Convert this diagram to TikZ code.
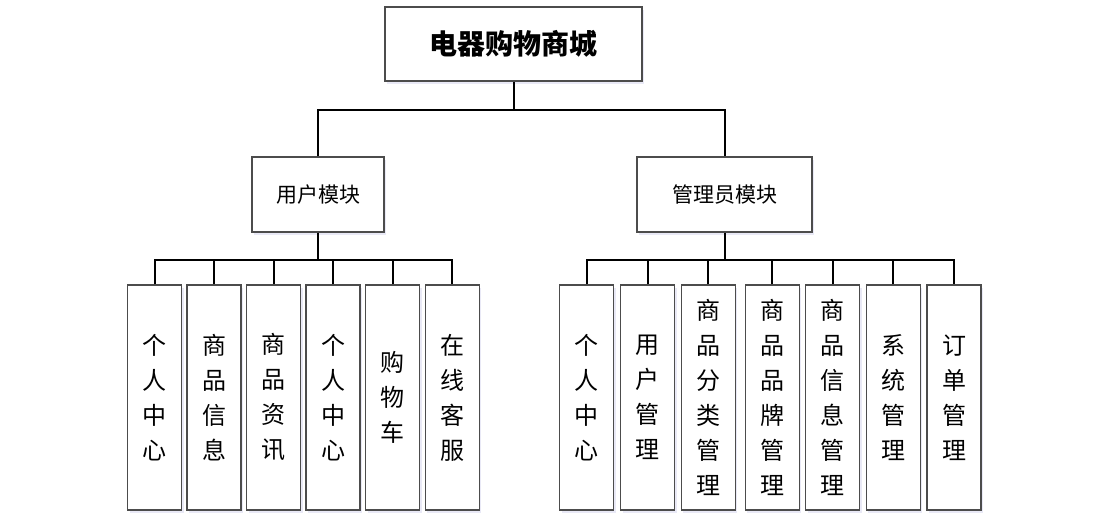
\documentclass[tikz,border=0pt]{standalone}
\usepackage{fontspec}
\newfontfamily\cjk{Noto Sans CJK SC}
\usetikzlibrary{shadows}

\begin{document}
\begin{tikzpicture}[
  x=1pt,y=-1pt,
  box/.style={draw=black!70,line width=1.1pt,fill=white,inner sep=0pt,
    drop shadow={shadow xshift=2pt,shadow yshift=-3pt,fill=blue!40!gray,opacity=.12}},
  titlebox/.style={box,minimum width=257pt,minimum height=74pt,
    font=\cjk\bfseries\fontsize{28}{32}\selectfont},
  modbox/.style={box,minimum height=75pt,font=\cjk\fontsize{21}{25}\selectfont},
  leafbox/.style={box,minimum width=54pt,minimum height=225pt,align=center,
    font=\cjk\fontsize{24}{35}\selectfont},
  wire/.style={line width=2pt,black}
]
  \useasboundingbox (0,0) rectangle (1108,528);

  \node[titlebox] (mall) at (513.5,44) {电器购物商城};
  \node[modbox,minimum width=132pt] (user) at (318,194.5) {用户模块};
  \node[modbox,minimum width=175pt] (admin) at (724.5,194.5) {管理员模块};

  \coordinate (mallbus) at (513.5,110);
  \coordinate (userbus) at (318,260);
  \coordinate (adminbus) at (724.5,259.5);

  % user side
  \node[leafbox] (u1) at (154.5,397.5) {个\\人\\中\\心};
  \node[leafbox] (u2) at (214,397.5) {商\\品\\信\\息};
  \node[leafbox] (u3) at (273.5,397.5) {商\\品\\资\\讯};
  \node[leafbox] (u4) at (333,397.5) {个\\人\\中\\心};
  \node[leafbox] (u5) at (392.5,397.5) {购\\物\\车};
  \node[leafbox] (u6) at (452.3,397.5) {在\\线\\客\\服};

  % admin side
  \node[leafbox] (a1) at (586.7,397.5) {个\\人\\中\\心};
  \node[leafbox] (a2) at (647.7,397.5) {用\\户\\管\\理};
  \node[leafbox] (a3) at (708.3,397.5) {商\\品\\分\\类\\管\\理};
  \node[leafbox] (a4) at (772.3,397.5) {商\\品\\品\\牌\\管\\理};
  \node[leafbox] (a5) at (832.8,397.5) {商\\品\\信\\息\\管\\理};
  \node[leafbox] (a6) at (893.3,397.5) {系\\统\\管\\理};
  \node[leafbox] (a7) at (954,397.5) {订\\单\\管\\理};

  \draw[wire] (mall.south) -- (mallbus);
  \draw[wire] (user.north) |- (mallbus) -| (admin.north);

  \draw[wire] (user.south) -- (userbus);
  \draw[wire] (u1.north) |- (userbus) -| (u6.north);
  \draw[wire] (u2.north) -- (u2.north |- userbus);
  \draw[wire] (u3.north) -- (u3.north |- userbus);
  \draw[wire] (u4.north) -- (u4.north |- userbus);
  \draw[wire] (u5.north) -- (u5.north |- userbus);

  \draw[wire] (admin.south) -- (adminbus);
  \draw[wire] (a1.north) |- (adminbus) -| (a7.north);
  \draw[wire] (a2.north) -- (a2.north |- adminbus);
  \draw[wire] (a3.north) -- (a3.north |- adminbus);
  \draw[wire] (a4.north) -- (a4.north |- adminbus);
  \draw[wire] (a5.north) -- (a5.north |- adminbus);
  \draw[wire] (a6.north) -- (a6.north |- adminbus);
\end{tikzpicture}
\end{document}
